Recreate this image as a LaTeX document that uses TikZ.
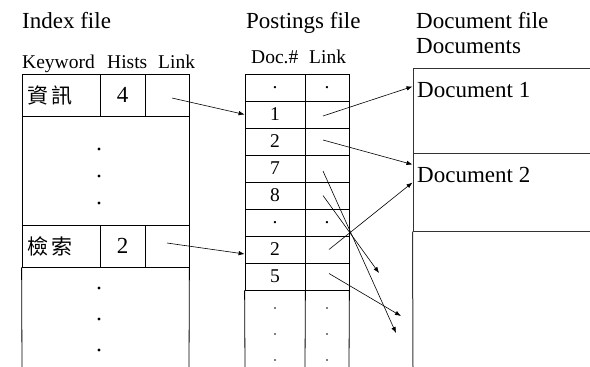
\documentclass[tikz,border=0pt]{standalone}
\usepackage{fontspec}
\setmainfont{Liberation Serif}
\newfontfamily\cjk{Noto Sans CJK TC}
\usetikzlibrary{arrows.meta,calc}
\begin{document}
\begin{tikzpicture}[x=1pt,y=-1pt,
  title/.style={anchor=base west,inner sep=0pt,font=\fontsize{23}{26}\selectfont},
  head/.style={anchor=base west,inner sep=0pt,font=\fontsize{19.5}{22}\selectfont},
  cellbox/.style={draw,line width=0.8pt,inner sep=0pt,minimum width=#1},
  big/.style={font=\fontsize{23}{26}\selectfont},
  num/.style={font=\fontsize{19.5}{22}\selectfont},
  cjkt/.style={inner sep=0pt,font=\cjk\fontsize{21}{24}\selectfont},
  bigdot/.style={circle,fill,inner sep=0pt,minimum size=3.2pt},
  smalldot/.style={circle,fill,inner sep=0pt,minimum size=1.8pt},
  docbox/.style={draw=black!80,line width=1pt,inner sep=0pt,minimum width=190pt},
  arr/.style={line width=0.6pt,-{Latex[length=6pt,width=4.5pt]}},
  frame/.style={line width=0.8pt}
]
\useasboundingbox (0,0) rectangle (590,367);

% titles
\node[title] (tindex) at (22,28) {Index file};
\node[title] (tpost) at (246,28) {Postings file};
\node[title] (tdoc) at (416,28) {Document file};
\node[title] (tdocs) at (416,53) {Documents};

% index headers
\node[head] (hkey) at (22,68) {Keyword};
\node[head] (hhist) at (107,68) {Hists};
\node[head] (hlink) at (158,68) {Link};

% index table
\node[cellbox=78pt,minimum height=42pt] (k1) at (61,95) {};
\node[cellbox=45pt,minimum height=42pt,big] (h1) at (122.5,95) {4};
\node[cellbox=44pt,minimum height=42pt] (l1) at (167,95) {};
\node[cjkt] (w1) at (50,95) {資\hspace{3pt}訊};
\node[cellbox=167pt,minimum height=109pt] (mid) at (105.5,170.5) {};
\node[bigdot] (m1) at (99,149) {};
\node[bigdot] (m2) at (99,176) {};
\node[bigdot] (m3) at (99,203) {};
\node[cellbox=78pt,minimum height=42pt] (k2) at (61,246) {};
\node[cellbox=45pt,minimum height=42pt,big] (h2) at (122.5,246) {2};
\node[cellbox=44pt,minimum height=42pt] (l2) at (167,246) {};
\node[cjkt] (w2) at (50,246) {檢\hspace{3pt}索};
\coordinate (ibl) at (22,367);
\coordinate (ibr) at (189,367);
\draw[frame] (k2.south west) -- (ibl);
\draw[frame] (l2.south east) -- (ibr);
\node[bigdot] (b1) at (99,288) {};
\node[bigdot] (b2) at (99,319) {};
\node[bigdot] (b3) at (99,350) {};

% postings headers
\node[head] (hdoc) at (251,63) {Doc.\#};
\node[head] (hplink) at (309,63) {Link};

% postings table
\foreach \i/\t in {1/{.},2/1,3/2,4/7,5/8,6/{.},7/2,8/5}{
  \node[cellbox=60pt,minimum height=27pt,num] (pd\i) at (275,{74+27*(\i-1)+13.5}) {\t};
  \node[cellbox=44pt,minimum height=27pt,num] (pl\i) at (327,{74+27*(\i-1)+13.5}) {};
}
\node[num,inner sep=0pt] (dotl1) at (pl1.center) {.};
\node[num,inner sep=0pt] (dotl6) at (pl6.center) {.};
\coordinate (pb1) at (245,367);
\coordinate (pb2) at (305,367);
\coordinate (pb3) at (349,367);
\draw[frame] (pd8.south west) -- (pb1);
\draw[frame] (pd8.south east) -- (pb2);
\draw[frame] (pl8.south east) -- (pb3);
\foreach \j/\y in {1/308,2/334,3/360}{
  \node[smalldot] (qa\j) at (275,\y) {};
  \node[smalldot] (qb\j) at (327,\y) {};
}

% document file
\node[docbox,minimum height=85pt] (doc1) at (508,110.5) {};
\node[docbox,minimum height=78pt] (doc2) at (508,192) {};
\node[big,anchor=base west,inner sep=0pt] (dt1) at (417,97) {Document 1};
\node[big,anchor=base west,inner sep=0pt] (dt2) at (417,182) {Document 2};
\coordinate (dbl) at (413,367);
\draw[draw=black!80,line width=1pt] (doc2.south west) -- (dbl);

% arrows index -> postings
\draw[arr] ($(l1.center)+(5,3)$) -- (pd2.west);
\draw[arr] ($(l2.center)+(0,-3)$) -- ($(pd7.west)+(0,4.5)$);

% arrows postings -> documents
\coordinate (e4) at (396,333);
\coordinate (e5) at (379,273);
\coordinate (e8) at (401,316);
\draw[arr] ($(pl2.center)+(-4,1.5)$) -- ($(doc1.north west)+(0,19)$);
\draw[arr] ($(pl3.center)+(-4,-1.5)$) -- ($(doc2.north west)+(0,12)$);
\draw[arr] ($(pl7.center)+(2,0)$) -- ($(doc2.north west)+(0,30)$);
\draw[arr] ($(pl4.center)+(-4,2.5)$) -- (e4);
\draw[arr] ($(pl5.center)+(-4,0)$) -- (e5);
\draw[arr] ($(pl8.center)+(2,-3)$) -- (e8);
\end{tikzpicture}
\end{document}
